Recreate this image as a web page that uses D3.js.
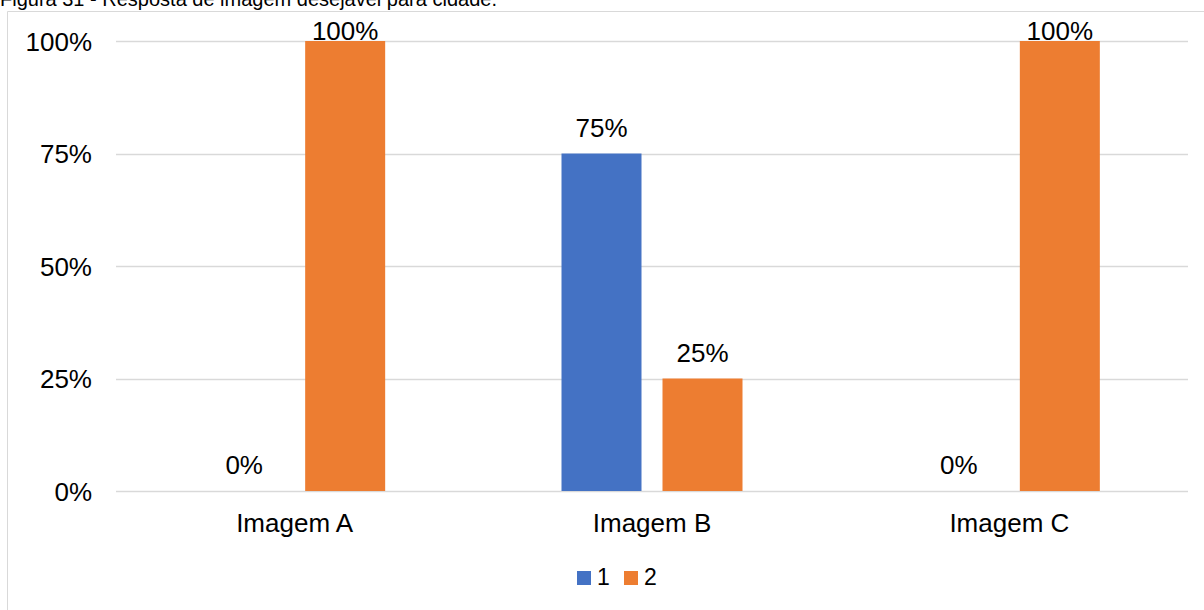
<!DOCTYPE html>
<html>
<head>
<meta charset="utf-8">
<script src="https://cdn.jsdelivr.net/npm/d3@7/dist/d3.min.js"></script>
<style>
  html, body { margin: 0; padding: 0; background: #fff; overflow: hidden; }
  svg { display: block; font-family: "Liberation Sans", Arial, sans-serif; }
</style>
</head>
<body>
<svg id="chart" width="1204" height="610"></svg>
<script>
const title = "Figura 31 - Resposta de imagem desejável para cidade.";
const categories = ["Imagem A", "Imagem B", "Imagem C"];
const seriesNames = ["1", "2"];
const series1 = [0, 0.75, 0];
const series2 = [1, 0.25, 1];
const yTicks = [0, 0.25, 0.5, 0.75, 1];
const colors = ["#4472C4", "#ED7D31"];

const svg = d3.select("#chart");
const W = 1204, H = 610;
const plot = { left: 116, right: 1188, top: 41, bottom: 491 };

// title (clipped at top like the reference)
svg.append("text").attr("x", 0).attr("y", 6)
  .attr("font-size", 20).attr("fill", "#000").text(title);

// chart frame
svg.append("line").attr("x1", 7.5).attr("x2", 7.5).attr("y1", 11.5).attr("y2", H)
  .attr("stroke", "#d9d9d9").attr("stroke-width", 1);
svg.append("line").attr("x1", 7.5).attr("x2", W).attr("y1", 11.5).attr("y2", 11.5)
  .attr("stroke", "#d9d9d9").attr("stroke-width", 1);

const x0 = d3.scaleBand().domain(categories).range([plot.left, plot.right]).padding(0);
const x1 = d3.scaleBand().domain(seriesNames).range([-90.5, 90.5]).paddingInner(21 / 101).paddingOuter(0);
const y = d3.scaleLinear().domain([0, 1]).range([plot.bottom, plot.top]);
const fmt = d3.format(".0%");

// gridlines
svg.append("g").selectAll("line").data(yTicks).join("line")
  .attr("x1", plot.left).attr("x2", plot.right)
  .attr("y1", d => Math.round(y(d)) + 0.5).attr("y2", d => Math.round(y(d)) + 0.5)
  .attr("stroke", "#d9d9d9").attr("stroke-width", 1.5);

// y axis labels
const yAxis = d3.axisLeft(y).tickValues(yTicks).tickFormat(fmt).tickSize(0).tickPadding(0);
const gy = svg.append("g").attr("transform", "translate(92,0)").call(yAxis);
gy.select(".domain").remove();
gy.selectAll("text").attr("font-size", 26).attr("font-family", "Liberation Sans, Arial, sans-serif")
  .attr("fill", "#000").attr("dy", "0.35em");

// x axis labels
const xAxis = d3.axisBottom(x0).tickSize(0).tickPadding(0);
const gx = svg.append("g").attr("transform", "translate(0,512)").call(xAxis);
gx.select(".domain").remove();
gx.selectAll("text").attr("font-size", 26).attr("font-family", "Liberation Sans, Arial, sans-serif")
  .attr("fill", "#000").attr("dy", "0.75em");

// bars
const data = [];
categories.forEach((c, i) => {
  data.push({ cat: c, s: seriesNames[0], v: series1[i], color: colors[0] });
  data.push({ cat: c, s: seriesNames[1], v: series2[i], color: colors[1] });
});
const cx = d => x0(d.cat) + x0.bandwidth() / 2 + x1(d.s);

svg.append("g").selectAll("rect").data(data).join("rect")
  .attr("x", d => cx(d))
  .attr("width", x1.bandwidth())
  .attr("y", d => y(d.v))
  .attr("height", d => y(0) - y(d.v))
  .attr("fill", d => d.color);

// data labels
svg.append("g").selectAll("text").data(data).join("text")
  .attr("x", d => cx(d) + x1.bandwidth() / 2)
  .attr("y", d => Math.max(y(d.v) - 17, 40))
  .attr("text-anchor", "middle")
  .attr("font-size", 26).attr("fill", "#000")
  .text(d => fmt(d.v));

// legend
const legend = svg.append("g");
const legendX = [577, 624];
seriesNames.forEach((s, i) => {
  legend.append("rect").attr("x", legendX[i]).attr("y", 571).attr("width", 14).attr("height", 14)
    .attr("fill", colors[i]);
  legend.append("text").attr("x", legendX[i] + 20).attr("y", 585)
    .attr("font-size", 23).attr("fill", "#000").text(s);
});
</script>
</body>
</html>
